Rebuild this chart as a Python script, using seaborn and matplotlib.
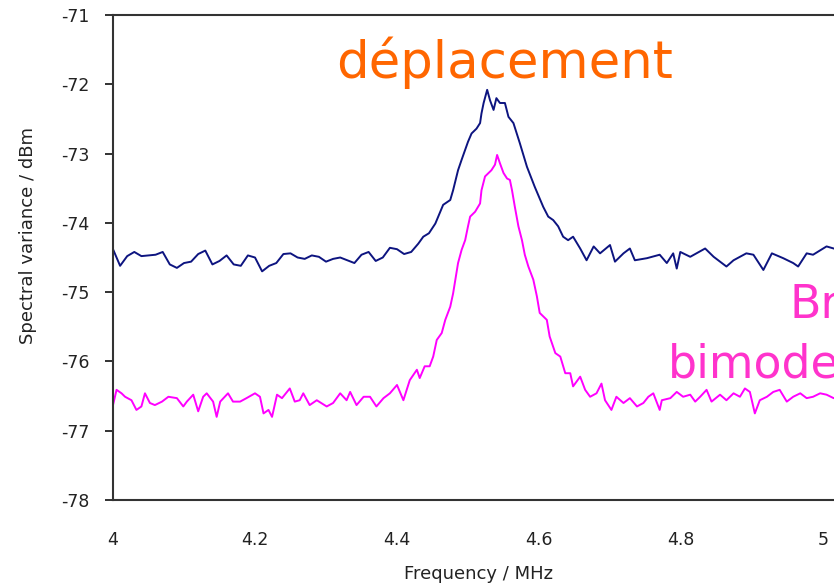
import matplotlib
matplotlib.use('Agg')
import matplotlib.pyplot as plt
import seaborn as sns
import pandas as pd

# readings: frequency (MHz) and spectral variance (dBm)
freq_dep = [4.00, 4.01, 4.02, 4.03, 4.04, 4.05, 4.06, 4.07, 4.08, 4.09,
            4.10, 4.11, 4.12, 4.13, 4.14, 4.15, 4.16, 4.17, 4.18, 4.19,
            4.20, 4.21, 4.22, 4.23, 4.24, 4.25, 4.26, 4.27, 4.28, 4.29,
            4.30, 4.31, 4.32, 4.33, 4.34, 4.35, 4.36, 4.37, 4.38, 4.39,
            4.40, 4.41, 4.42, 4.43, 4.437, 4.445, 4.454, 4.465, 4.475, 4.479,
            4.486, 4.491, 4.500, 4.505, 4.512, 4.517, 4.519, 4.522, 4.527, 4.531,
            4.536, 4.540, 4.545, 4.552, 4.557, 4.564, 4.573, 4.583, 4.594, 4.606,
            4.613, 4.620, 4.627, 4.634, 4.641, 4.648, 4.658, 4.667, 4.677, 4.686,
            4.700, 4.707, 4.719, 4.728, 4.735, 4.752, 4.770, 4.780, 4.789, 4.794,
            4.799, 4.813, 4.834, 4.846, 4.864, 4.874, 4.892, 4.902, 4.916, 4.928,
            4.944, 4.958, 4.965, 4.977, 4.986, 5.005, 5.015, 5.028]
var_dep = [-74.38, -74.62, -74.48, -74.42, -74.48, -74.47, -74.46, -74.42, -74.60, -74.65,
           -74.58, -74.56, -74.45, -74.40, -74.60, -74.55, -74.47, -74.60, -74.62, -74.47,
           -74.50, -74.70, -74.62, -74.58, -74.45, -74.44, -74.50, -74.52, -74.47, -74.49,
           -74.56, -74.52, -74.50, -74.54, -74.58, -74.46, -74.42, -74.55, -74.50, -74.36,
           -74.38, -74.45, -74.42, -74.30, -74.20, -74.15, -74.01, -73.74, -73.67, -73.53,
           -73.24, -73.09, -72.83, -72.71, -72.64, -72.56, -72.42, -72.27, -72.08, -72.23,
           -72.37, -72.20, -72.27, -72.27, -72.47, -72.56, -72.85, -73.19, -73.48, -73.77,
           -73.91, -73.96, -74.05, -74.20, -74.25, -74.20, -74.37, -74.54, -74.34, -74.44,
           -74.32, -74.56, -74.44, -74.37, -74.54, -74.51, -74.46, -74.58, -74.44, -74.66,
           -74.42, -74.49, -74.37, -74.49, -74.63, -74.54, -74.44, -74.46, -74.68, -74.44,
           -74.51, -74.58, -74.63, -74.44, -74.46, -74.34, -74.37, -74.40]

freq_bim = [4.000, 4.005, 4.012, 4.017, 4.026, 4.033, 4.040, 4.045, 4.052, 4.059,
            4.069, 4.078, 4.090, 4.099, 4.104, 4.113, 4.120, 4.127, 4.132, 4.141,
            4.146, 4.151, 4.162, 4.169, 4.179, 4.188, 4.200, 4.207, 4.212, 4.219,
            4.224, 4.231, 4.238, 4.249, 4.256, 4.263, 4.268, 4.277, 4.287, 4.301,
            4.310, 4.320, 4.329, 4.334, 4.343, 4.353, 4.362, 4.371, 4.381, 4.390,
            4.400, 4.409, 4.418, 4.428, 4.432, 4.439, 4.446, 4.451, 4.456, 4.463,
            4.468, 4.475, 4.479, 4.486, 4.491, 4.496, 4.500, 4.503, 4.510, 4.517,
            4.519, 4.524, 4.529, 4.533, 4.538, 4.541, 4.545, 4.550, 4.555, 4.559,
            4.562, 4.566, 4.571, 4.576, 4.580, 4.585, 4.592, 4.597, 4.601, 4.611,
            4.615, 4.623, 4.630, 4.637, 4.644, 4.648, 4.658, 4.665, 4.672, 4.681,
            4.688, 4.693, 4.702, 4.709, 4.719, 4.728, 4.738, 4.747, 4.754, 4.761,
            4.770, 4.773, 4.785, 4.794, 4.803, 4.813, 4.820, 4.827, 4.836, 4.843,
            4.855, 4.864, 4.874, 4.883, 4.890, 4.897, 4.904, 4.911, 4.921, 4.930,
            4.939, 4.949, 4.958, 4.968, 4.977, 4.986, 4.996, 5.005, 5.015, 5.028]
var_bim = [-76.63, -76.41, -76.46, -76.51, -76.56, -76.70, -76.65, -76.46, -76.60, -76.63,
           -76.58, -76.51, -76.53, -76.65, -76.58, -76.48, -76.72, -76.51, -76.46, -76.58,
           -76.80, -76.58, -76.46, -76.58, -76.58, -76.53, -76.46, -76.51, -76.75, -76.70,
           -76.80, -76.48, -76.53, -76.39, -76.58, -76.56, -76.46, -76.63, -76.56, -76.65,
           -76.60, -76.46, -76.56, -76.44, -76.63, -76.51, -76.51, -76.65, -76.53, -76.46,
           -76.34, -76.56, -76.27, -76.12, -76.24, -76.07, -76.07, -75.93, -75.69, -75.59,
           -75.40, -75.21, -75.02, -74.58, -74.39, -74.25, -74.05, -73.91, -73.84, -73.72,
           -73.53, -73.33, -73.28, -73.24, -73.16, -73.02, -73.14, -73.28, -73.36, -73.38,
           -73.53, -73.77, -74.05, -74.25, -74.46, -74.63, -74.82, -75.06, -75.30, -75.40,
           -75.64, -75.88, -75.93, -76.17, -76.17, -76.36, -76.22, -76.41, -76.51, -76.46,
           -76.32, -76.56, -76.70, -76.51, -76.60, -76.53, -76.65, -76.60, -76.51, -76.46,
           -76.70, -76.56, -76.53, -76.44, -76.51, -76.48, -76.58, -76.51, -76.41, -76.58,
           -76.48, -76.56, -76.46, -76.51, -76.39, -76.44, -76.75, -76.56, -76.51, -76.44,
           -76.41, -76.58, -76.51, -76.46, -76.53, -76.51, -76.46, -76.48, -76.53, -76.50]

xticks = [4, 4.2, 4.4, 4.6, 4.8, 5]
xtick_labels = ['4', '4.2', '4.4', '4.6', '4.8', '5']
yticks = [-78, -77, -76, -75, -74, -73, -72, -71]
ytick_labels = ['-78', '-77', '-76', '-75', '-74', '-73', '-72', '-71']

df_dep = pd.DataFrame({'f': freq_dep, 'v': var_dep})
df_bim = pd.DataFrame({'f': freq_bim, 'v': var_bim})

sns.set_style('ticks')
plt.rcParams['font.family'] = ['DejaVu Sans']
plt.rcParams['axes.unicode_minus'] = False

fig = plt.figure(figsize=(8.34, 5.88), dpi=100)
# axes runs a little past the right edge of the picture, like the original crop
ax = fig.add_axes([113 / 834, 88 / 588, 730 / 834, 485 / 588])

sns.lineplot(data=df_dep, x='f', y='v', ax=ax, color='#0d1480', lw=1.4,
             sort=False, estimator=None)
sns.lineplot(data=df_bim, x='f', y='v', ax=ax, color='#ff00ff', lw=1.4,
             sort=False, estimator=None)

ax.set_xlim(4, 4 + 730 / 710)
ax.set_ylim(-78, -71)
ax.set_xticks(xticks)
ax.set_xticklabels(xtick_labels)
ax.set_yticks(yticks)
ax.set_yticklabels(ytick_labels)
ax.tick_params(axis='x', length=0, pad=22, labelsize=12.5, colors='#222222')
ax.tick_params(axis='y', length=6, width=1.3, pad=11, labelsize=12.5, colors='#222222')
for s in ax.spines.values():
    s.set_color('#333333')
    s.set_linewidth(1.5)

ax.set_xlabel('Frequency / MHz', fontsize=13, color='#222222')
ax.set_ylabel('Spectral variance / dBm', fontsize=13, color='#222222')
ax.xaxis.set_label_coords(0.5, -0.135)
ax.yaxis.set_label_coords(-0.104, 0.546)

fig.text(505 / 834, 1 - 78 / 588, 'déplacement', color='#ff6600', fontsize=37,
         ha='center', va='baseline')
fig.text(790 / 834, 1 - 318 / 588, 'Bruit', color='#ff33cc', fontsize=33,
         ha='left', va='baseline')
fig.text(668 / 834, 1 - 377 / 588, 'bimode', color='#ff33cc', fontsize=33,
         ha='left', va='baseline')

fig.savefig('out.png', dpi=100)
